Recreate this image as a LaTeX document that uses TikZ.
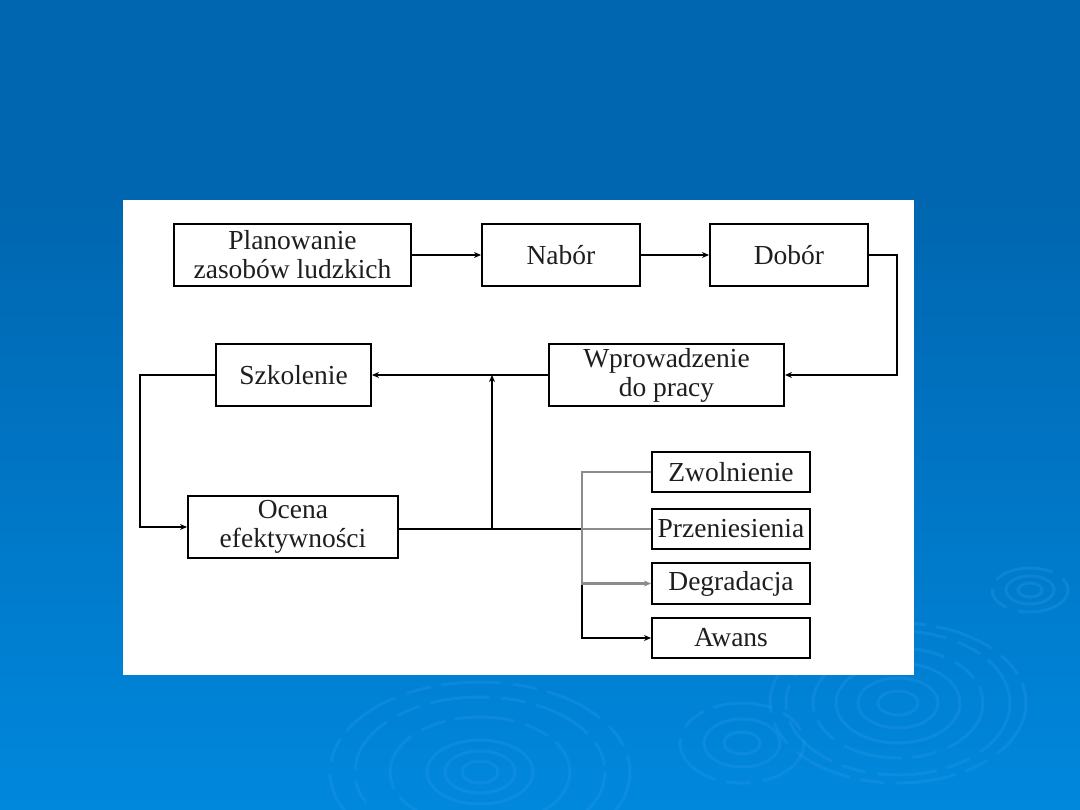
\documentclass[tikz,border=0pt]{standalone}
\usepackage{fontspec}
\setmainfont{Liberation Serif}
\usetikzlibrary{arrows.meta}
\definecolor{bgtop}{HTML}{0066B0}
\definecolor{bgbot}{HTML}{0088DD}
\definecolor{ripc}{HTML}{2A9AEA}
\definecolor{txt}{HTML}{1E1E1E}
\definecolor{glin}{HTML}{8C8C8C}
\tikzset{
  box/.style={draw=black, line width=2pt, fill=white, rectangle, inner sep=0pt,
    align=center, text=txt, font=\fontsize{27.5}{29}\selectfont},
  conn/.style={draw=black, line width=2pt},
  gconn/.style={draw=glin, line width=2.2pt},
  tip/.style={-{Stealth[length=7pt,width=6pt]}},
  ripple/.style={draw=ripc, line width=3pt, opacity=0.3},
  rippled/.style={ripple, dash pattern=on 60pt off 12pt on 25pt off 10pt}
}
\begin{document}
\begin{tikzpicture}[x=1pt,y=-1pt]
\useasboundingbox (0,0) rectangle (1080,810);
% background
\fill[bgtop] (0,0) rectangle (1080,200);
\shade[top color=bgtop, bottom color=bgbot] (0,200) rectangle (1080,810);
% ripples
\draw[ripple] (1030,590) ellipse (12 and 7);
\draw[ripple] (1030,590) ellipse (24 and 14);
\draw[rippled] (1030,590) ellipse (38 and 22);
\draw[ripple] (898,703) ellipse (20 and 12);
\draw[ripple] (898,703) ellipse (40 and 25);
\draw[ripple] (898,703) ellipse (62 and 40);
\draw[rippled] (898,703) ellipse (85 and 55);
\draw[rippled] (898,703) ellipse (112 and 72);
\draw[rippled] (898,703) ellipse (128 and 80);
\draw[ripple] (742,743) ellipse (18 and 11);
\draw[ripple] (742,743) ellipse (38 and 24);
\draw[rippled] (742,743) ellipse (62 and 40);
\draw[ripple] (480,772) ellipse (18 and 11);
\draw[ripple] (480,772) ellipse (35 and 21);
\draw[ripple] (480,772) ellipse (53 and 32);
\draw[rippled] (480,772) ellipse (90 and 55);
\draw[rippled] (480,772) ellipse (125 and 75);
\draw[rippled] (480,772) ellipse (150 and 90);
% white panel
\fill[white] (123,200) rectangle (914,675);
% boxes
\node[box, minimum width=237pt, minimum height=62pt] (pla) at (292.5,255) {Planowanie\\zasobów ludzkich};
\node[box, minimum width=158pt, minimum height=62pt] (nab) at (561,255) {Nabór};
\node[box, minimum width=158pt, minimum height=62pt] (dob) at (789,255) {Dobór};
\node[box, minimum width=235pt, minimum height=62pt] (wpr) at (666.5,375) {Wprowadzenie\\do pracy};
\node[box, minimum width=155pt, minimum height=62pt] (szk) at (293.5,375) {Szkolenie};
\node[box, minimum width=210pt, minimum height=62pt] (oce) at (293,527) {Ocena\\efektywności};
\node[box, minimum width=158pt, minimum height=40pt] (zwo) at (731,472) {Zwolnienie};
\node[box, minimum width=158pt, minimum height=40pt] (prz) at (731,529) {Przeniesienia};
\node[box, minimum width=158pt, minimum height=41pt] (deg) at (731,583.5) {Degradacja};
\node[box, minimum width=158pt, minimum height=40pt] (awa) at (731,638) {Awans};
% junctions
\coordinate (j1) at (492,529);
\coordinate (j2) at (582,529);
\coordinate (dr) at (897,255);
\coordinate (sl) at (140,375);
% connectors
\draw[conn, tip] (pla.east) -- (nab.west);
\draw[conn, tip] (nab.east) -- (dob.west);
\draw[conn, tip] (dob.east) -- (dr) |- (wpr.east);
\draw[conn, tip] (wpr.west) -- (szk.east);
\draw[conn, tip] (szk.west) -- (sl) |- (oce.west);
\draw[conn] (oce.east |- j1) -- (j2);
\draw[conn, tip] (j1) -- (j1 |- szk.east);
\draw[conn, tip] (j2 |- deg.west) |- (awa.west);
\draw[gconn] (j2) -- (prz.west);
\draw[gconn] (j2) |- (zwo.west);
\draw[gconn, tip] (j2) |- (deg.west);
\end{tikzpicture}
\end{document}
